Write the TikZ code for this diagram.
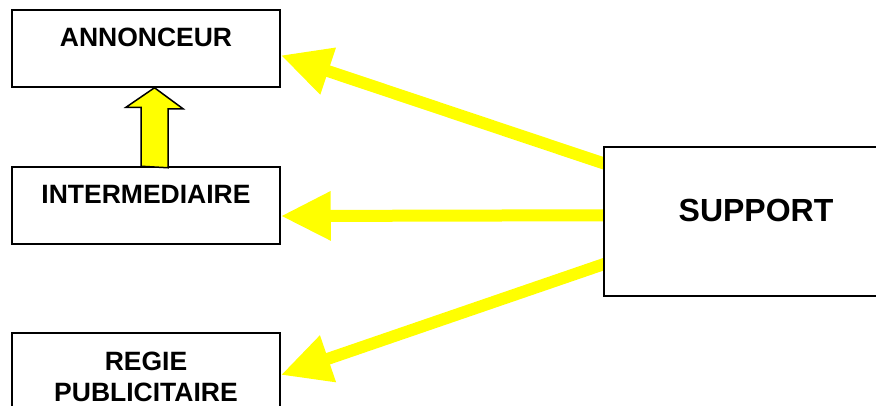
\documentclass[tikz,border=0pt]{standalone}
\usepackage{fontspec}
\setmainfont{Liberation Sans}
\usetikzlibrary{arrows.meta,backgrounds}
\definecolor{yel}{RGB}{255,255,0}
\begin{document}
\begin{tikzpicture}[x=1pt,y=-1pt,
  box/.style={draw=black, line width=1.5pt, fill=white, minimum width=268pt, minimum height=77pt, inner sep=0pt},
  lbl/.style={font=\bfseries\fontsize{26.5}{31}\selectfont, inner sep=0pt, align=center},
  biglbl/.style={font=\bfseries\fontsize{32}{38}\selectfont, inner sep=0pt},
  flow/.style={draw=yel, line width=12pt, -{Triangle[width=46pt,length=50pt]}},
  blockarrow/.style={draw=black, line width=1.5pt, fill=yel, line join=miter}]
\useasboundingbox (0,0) rectangle (876,405);
\clip (0,0) rectangle (876,405);
\node[box] (ann) at (146,48.5) {};
\node[box] (int) at (146,205.5) {};
\node[box] (reg) at (146,371.5) {};
\node[box, minimum width=304pt, minimum height=149pt] (sup) at (756,221.5) {};
\node[lbl, anchor=base] (annt) at ([yshift=-37pt]ann.north) {ANNONCEUR};
\node[lbl, anchor=base] (intt) at ([yshift=-37pt]int.north) {INTERMEDIAIRE};
\node[lbl, anchor=north] (regt) at ([yshift=-20pt]reg.north) {REGIE\\PUBLICITAIRE};
\node[biglbl, anchor=base] (supt) at (756,221) {SUPPORT};
\begin{scope}[on background layer]
\draw[flow] ([xshift=6pt,yshift=-19pt]sup.north west) -- ([yshift=-46pt]ann.north east);
\draw[flow] ([xshift=6pt,yshift=-69pt]sup.north west) -- ([yshift=-10.5pt]int.east);
\draw[flow] ([xshift=6pt,yshift=-116pt]sup.north west) -- ([yshift=-3.5pt]reg.east);
\end{scope}
\coordinate (tip) at ([xshift=8.5pt]ann.south);
\coordinate (foot) at ([xshift=8.5pt]int.north);
\draw[blockarrow] (foot) ++(-13.5,0) -- ++(0,-59) -- ++(-15,0) -- (tip) -- ++(28.5,21) -- ++(-15,0) -- ++(0,59) -- cycle;
\end{tikzpicture}
\end{document}
